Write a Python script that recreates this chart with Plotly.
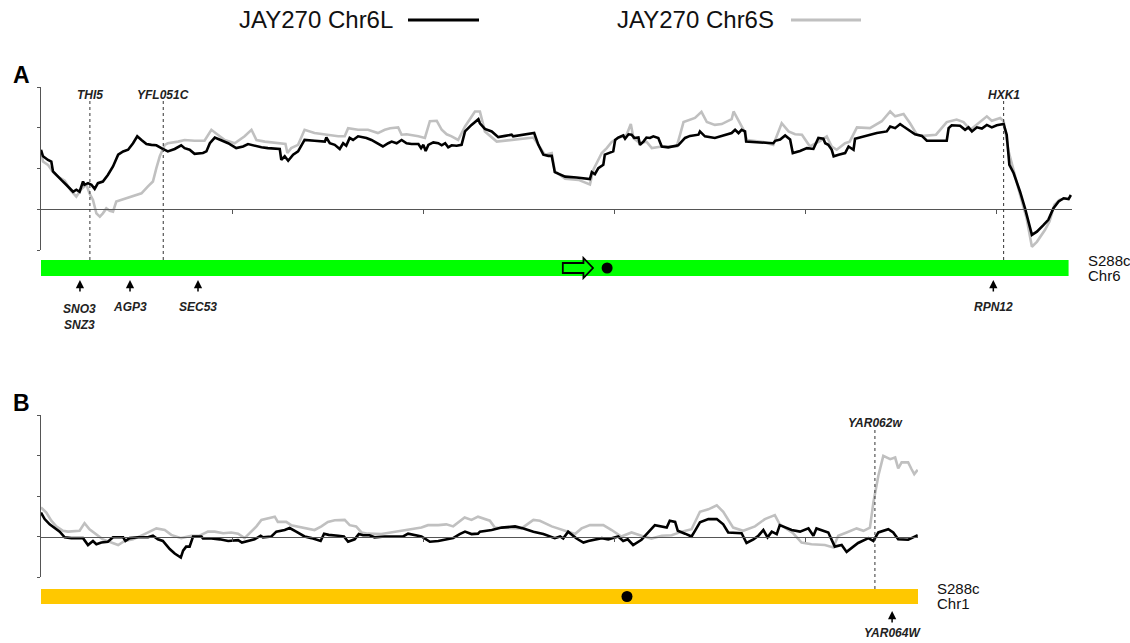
import plotly.graph_objects as go

# ---------------- data (position in kb, relative value) ----------------
a_black_kb = [0, 0.52, 1.83, 2.7, 3.14, 4.0, 5.3, 6.6, 8.4, 9.25, 10.1, 11.0, 11.4, 12.3, 13.2, 14.05, 14.9, 16.2,
              17.5, 18.85, 20.2, 21.5, 22.8, 24.1, 25.2, 26.3, 27.6, 28.9, 30.2, 31.5, 33.2, 35.0, 36.7, 37.6, 38.9,
              40.2, 42.4, 43.3, 44.2, 45.5, 47.2, 49.0, 51.1, 52.9, 54.2, 55.9, 57.7, 59.4, 62.5, 62.9, 63.8, 64.7,
              66.0, 67.3, 69.0, 71.6, 74.3, 74.7, 75.6, 76.9, 78.2, 79.1, 79.9, 80.8, 81.7, 83.0, 85.2, 86.5, 88.2,
              89.5, 90.9, 91.8, 93.1, 94.4, 95.7, 97.0, 98.8, 99.5, 100.1, 100.7, 101.4, 102.7, 104.0, 104.9, 105.8,
              106.6, 107.5, 108.8, 110.1, 111.0, 112.7, 114.5, 114.9, 116.2, 118.0, 119.7, 121.5, 123.2, 123.6, 126.7,
              129.1, 130.2, 131.5, 132.8, 133.7, 134.5, 137.2, 140.2, 143.7, 144.2, 145.0, 145.9, 147.2, 147.6, 148.5,
              149.8, 150.3, 151.1, 152.4, 152.9, 153.8, 154.6, 155.3, 156.4, 156.8, 157.7, 158.5, 159.4, 160.3, 161.6,
              162.5, 164.2, 166.8, 168.6, 169.9, 172.1, 172.5, 173.8, 176.4, 178.2, 180.8, 181.7, 182.6, 183.4, 184.3,
              184.6, 188.3, 191.7, 192.2, 193.5, 194.8, 196.1, 196.8, 198.7, 200.5, 202.2, 203.5, 204.8, 205.3, 206.1,
              207.0, 207.5, 208.8, 210.5, 211.4, 212.7, 213.1, 215.3, 217.0, 218.8, 221.4, 222.3, 223.6, 224.9, 225.8,
              227.1, 228.8, 230.6, 231.9, 237.1, 237.6, 238.4, 240.6, 241.9, 242.8, 243.7, 245.0, 246.3, 247.6, 248.9,
              250.2, 252.0, 252.8, 253.5, 254.6, 256.3, 257.6, 259.4, 260.7, 262.4, 263.7, 265.0, 266.4, 267.7, 269.0,
              269.6]
a_black_val = [1.46, 1.30, 1.21, 1.17, 0.93, 0.84, 0.72, 0.60, 0.43, 0.48, 0.43, 0.68, 0.60, 0.64, 0.60, 0.50, 0.64,
               0.68, 0.84, 1.05, 1.34, 1.42, 1.46, 1.62, 1.79, 1.70, 1.60, 1.58, 1.57, 1.50, 1.42, 1.48, 1.57, 1.50,
               1.46, 1.36, 1.38, 1.42, 1.62, 1.76, 1.70, 1.62, 1.50, 1.54, 1.60, 1.56, 1.52, 1.50, 1.48, 1.21, 1.30,
               1.19, 1.34, 1.42, 1.70, 1.68, 1.66, 1.76, 1.62, 1.58, 1.48, 1.62, 1.56, 1.75, 1.70, 1.79, 1.75, 1.70,
               1.62, 1.54, 1.62, 1.66, 1.62, 1.70, 1.62, 1.60, 1.60, 1.50, 1.58, 1.43, 1.58, 1.64, 1.62, 1.57, 1.62,
               1.52, 1.57, 1.56, 1.58, 1.91, 2.07, 2.21, 2.11, 1.97, 1.91, 1.77, 1.80, 1.83, 1.79, 1.83, 1.87, 1.58,
               1.34, 1.31, 1.31, 0.91, 0.80, 0.78, 0.74, 0.91, 0.86, 1.01, 1.09, 1.34, 1.38, 1.42, 1.70, 1.76, 1.81,
               1.73, 1.84, 1.83, 1.75, 1.76, 1.58, 1.66, 1.76, 1.75, 1.79, 1.75, 1.54, 1.52, 1.57, 1.75, 1.80, 1.83,
               1.91, 1.79, 1.75, 1.80, 1.87, 1.95, 1.87, 1.95, 1.91, 1.66, 1.64, 1.62, 1.68, 1.71, 1.81, 1.71, 1.38,
               1.43, 1.50, 1.48, 1.75, 1.73, 1.62, 1.58, 1.46, 1.30, 1.34, 1.38, 1.54, 1.46, 1.73, 1.79, 1.83, 1.87,
               1.91, 2.03, 1.99, 2.09, 2.03, 1.95, 1.84, 1.80, 1.68, 1.68, 1.99, 2.06, 2.05, 1.95, 2.01, 1.91, 2.01,
               1.98, 2.07, 2.01, 2.06, 2.09, 1.83, 1.09, 0.89, 0.43, 0.02, -0.63, -0.55, -0.39, -0.26, 0.02, 0.19,
               0.27, 0.25, 0.35]

a_gray_kb = [0, 0.52, 1.83, 3.14, 4.45, 6.2, 7.9, 9.25, 10.6, 11.9, 12.7, 13.6, 14.5, 15.4, 16.2, 17.1, 18.0, 18.85,
             19.7, 21.0, 22.8, 24.5, 26.3, 28.0, 29.3, 30.2, 31.1, 32.4, 33.2, 35.9, 37.6, 40.2, 42.8, 44.6, 46.3,
             48.1, 50.7, 53.3, 55.1, 56.4, 58.6, 62.5, 64.0, 64.5, 65.5, 67.3, 69.0, 71.6, 74.3, 77.8, 79.5, 80.4,
             83.0, 85.6, 88.2, 90.0, 91.4, 93.5, 94.4, 95.7, 98.8, 100.5, 101.8, 103.6, 104.9, 106.2, 107.5, 109.2,
             111.0, 113.6, 114.9, 116.2, 119.3, 123.2, 128.9, 130.2, 131.9, 133.7, 134.5, 137.2, 140.7, 143.7, 144.6,
             146.8, 148.1, 149.4, 151.1, 153.3, 154.4, 155.1, 156.8, 158.5, 159.9, 162.5, 166.4, 167.3, 168.2, 171.2,
             172.9, 174.3, 176.4, 178.2, 180.8, 181.3, 182.6, 183.9, 184.8, 189.1, 191.7, 193.1, 193.9, 195.7, 197.4,
             199.2, 201.3, 204.0, 205.7, 207.0, 208.3, 210.5, 211.7, 213.6, 217.0, 220.1, 222.3, 223.6, 224.9, 225.8,
             227.5, 229.3, 231.0, 234.3, 237.1, 239.7, 241.5, 243.3, 247.6, 248.9, 251.1, 252.0, 253.3, 254.6, 256.3,
             258.0, 259.4, 260.7, 262.8, 264.0, 265.3, 266.6, 268.3]
a_gray_val = [1.42, 1.17, 1.09, 0.91, 0.80, 0.70, 0.45, 0.31, 0.50, 0.60, 0.39, 0.23, -0.10, -0.18, -0.10, 0.02, -0.04,
              -0.06, 0.19, 0.23, 0.27, 0.33, 0.39, 0.56, 0.68, 1.01, 1.30, 1.58, 1.62, 1.66, 1.70, 1.68, 1.68, 1.95,
              1.83, 1.70, 1.62, 1.79, 1.95, 1.70, 1.66, 1.62, 1.60, 1.38, 1.50, 1.58, 1.95, 1.87, 1.83, 1.79, 1.79,
              1.99, 1.95, 1.95, 1.87, 1.95, 1.99, 2.01, 1.83, 1.84, 1.79, 1.75, 2.16, 2.17, 1.95, 1.84, 1.79, 1.70,
              2.03, 2.40, 2.40, 1.91, 1.66, 1.70, 1.76, 1.58, 1.34, 1.38, 0.94, 0.75, 0.72, 0.61, 0.97, 1.38, 1.50,
              1.65, 1.75, 1.83, 2.09, 1.75, 1.62, 1.66, 1.50, 1.54, 1.54, 1.83, 2.14, 2.24, 2.39, 2.14, 2.07, 2.09,
              2.21, 2.40, 2.16, 1.95, 1.70, 1.65, 1.58, 1.91, 2.11, 1.91, 1.84, 1.83, 1.54, 1.68, 1.79, 1.54, 1.46,
              1.62, 1.66, 2.01, 1.99, 2.16, 2.40, 2.28, 2.32, 2.34, 2.11, 1.83, 1.80, 1.83, 2.14, 2.20, 2.14, 1.95,
              2.28, 2.17, 2.24, 2.16, 1.42, 0.93, 0.35, -0.22, -0.92, -0.80, -0.51, -0.30, 0.11, 0.23, 0.27]

b_black_kb = [0, 0.96, 2.27, 3.58, 4.9, 6.2, 7.94, 11.0, 12.3, 13.6, 14.5, 15.8, 17.5, 18.85, 21.5, 22.1, 23.2, 25.4,
              28.0, 29.3, 30.6, 31.9, 33.7, 35.0, 36.6, 37.2, 38.0, 38.9, 39.8, 42.0, 42.4, 44.6, 46.8, 49.0, 51.6,
              52.6, 53.8, 55.9, 57.5, 58.1, 60.3, 61.6, 63.8, 65.1, 66.8, 69.0, 70.8, 72.1, 73.2, 74.1, 75.3, 77.8,
              79.3, 80.4, 82.1, 83.2, 84.3, 86.0, 87.3, 90.0, 94.8, 96.1, 99.6, 101.8, 104.0, 107.9, 109.6, 111.0,
              112.7, 114.4, 114.9, 118.0, 120.6, 124.1, 126.3, 128.9, 131.5, 134.5, 135.9, 136.7, 138.0, 139.3, 140.2,
              142.0, 143.3, 146.8, 148.5, 151.1, 152.4, 153.6, 155.0, 157.2, 158.5, 160.7, 163.8, 164.6, 166.0, 166.7,
              168.6, 170.3, 171.2, 172.5, 174.7, 176.9, 178.6, 179.9, 183.4, 184.7, 186.5, 187.8, 189.1, 190.2, 191.3,
              192.6, 193.4, 196.5, 198.7, 200.9, 202.2, 203.0, 206.1, 207.8, 209.6, 210.9, 213.9, 216.6, 217.9, 219.2,
              221.8, 223.1, 224.4, 227.0, 228.3, 229.5]
b_black_val = [0.59, 0.43, 0.30, 0.22, 0.12, -0.02, -0.04, -0.04, -0.21, -0.11, -0.19, -0.15, -0.13, -0.02, -0.02,
               -0.11, -0.04, -0.02, -0.02, 0.02, -0.07, -0.11, -0.31, -0.42, -0.52, -0.35, -0.25, -0.25, 0.0, 0.0,
               -0.05, -0.05, -0.07, -0.11, -0.09, -0.15, -0.12, -0.07, 0.02, -0.02, 0.0, 0.12, 0.16, 0.21, 0.12, 0.0,
               -0.04, -0.07, -0.11, 0.07, 0.04, 0.02, 0.0, -0.13, -0.07, 0.06, 0.03, 0.03, -0.02, 0.0, 0.0, 0.07, 0.0,
               -0.13, -0.11, -0.04, 0.06, 0.12, 0.06, 0.07, 0.12, 0.16, 0.22, 0.25, 0.20, 0.12, 0.06, -0.04, 0.0,
               -0.05, 0.12, 0.02, -0.05, -0.15, -0.11, -0.04, -0.07, 0.0, -0.11, -0.07, -0.21, -0.08, 0.06, 0.28, 0.22,
               0.39, 0.36, 0.14, 0.07, 0.0, 0.14, 0.35, 0.43, 0.43, 0.30, 0.10, 0.08, -0.16, -0.07, 0.02, 0.16, -0.02,
               0.12, 0.06, 0.28, 0.16, 0.12, 0.20, 0.02, 0.20, 0.10, -0.25, -0.21, -0.38, -0.16, -0.04, -0.11, 0.10,
               0.18, 0.10, -0.07, -0.08, -0.02, 0.03]

b_gray_kb = [0, 1.4, 2.7, 4.0, 5.76, 7.07, 10.1, 11.4, 12.7, 14.5, 16.2, 18.4, 20.2, 21.9, 24.1, 27.1, 28.9, 30.2, 32.4,
             34.1, 36.7, 39.4, 41.5, 43.7, 45.5, 47.7, 49.8, 51.6, 53.3, 55.1, 56.4, 57.7, 59.4, 61.2, 62.0, 64.2,
             65.5, 68.2, 71.6, 73.4, 75.1, 76.9, 79.5, 80.8, 82.5, 83.9, 85.6, 89.1, 91.7, 94.3, 97.0, 99.6, 101.3,
             104.0, 106.1, 107.9, 110.9, 112.7, 114.4, 117.5, 118.8, 125.8, 128.9, 130.6, 133.7, 137.2, 139.8, 141.5,
             143.7, 147.2, 149.4, 151.9, 154.6, 157.2, 159.8, 162.5, 165.1, 167.7, 170.3, 172.5, 174.7, 176.9, 178.6,
             181.2, 183.8, 186.9, 189.5, 192.1, 193.4, 196.9, 199.1, 201.7, 205.2, 207.4, 208.7, 210.9, 213.5, 215.3,
             217.0, 217.9, 219.2, 220.5, 222.3, 223.6, 224.4, 225.3, 227.0, 227.9, 228.6, 229.5]
b_gray_val = [0.72, 0.59, 0.39, 0.25, 0.14, 0.12, 0.14, 0.33, 0.18, 0.06, -0.07, -0.15, -0.21, -0.11, -0.07, 0.06,
              0.14, 0.20, 0.16, 0.04, -0.04, 0.02, 0.02, 0.12, 0.12, 0.08, 0.10, 0.07, -0.04, 0.12, 0.25, 0.41, 0.45,
              0.49, 0.36, 0.36, 0.28, 0.22, 0.16, 0.25, 0.36, 0.40, 0.41, 0.28, 0.25, 0.10, 0.07, 0.06, 0.10, 0.14,
              0.18, 0.22, 0.28, 0.28, 0.30, 0.25, 0.47, 0.41, 0.49, 0.39, 0.22, 0.20, 0.41, 0.39, 0.25, 0.14, 0.06,
              0.20, 0.28, 0.28, 0.16, 0.0, 0.10, 0.02, -0.05, 0.02, 0.03, 0.12, 0.18, 0.61, 0.67, 0.77, 0.61, 0.22,
              0.14, 0.25, 0.43, 0.53, 0.30, 0.08, -0.15, -0.19, -0.21, -0.27, 0.02, 0.10, 0.20, 0.14, 0.22, 0.84,
              1.50, 1.99, 1.91, 1.95, 1.68, 1.83, 1.83, 1.66, 1.54, 1.65]

series_names = ["JAY270 Chr6L", "JAY270 Chr6S"]
chr6_len, chr1_len = 269.0, 229.6
axis6_len, axis1_len = 270.0, 229.6
cen6, cen1 = 148.2, 153.4
cen6_arrow = [136.6, 142.0, 144.5]          # start, head start, tip (kb)
a_top_genes, a_top_pos = ["THI5", "YFL051C", "HXK1"], [12.8, 32.0, 252.0]
a_bot_genes, a_bot_pos = ["SNO3<br>SNZ3", "AGP3", "SEC53", "RPN12"], [10.2, 23.3, 41.1, 249.3]
b_top_genes, b_top_pos = ["YAR062w"], [218.3]
b_bot_genes, b_bot_pos = ["YAR064W"], [222.8]
y_ticks = [-1, 0, 1, 2, 3]

# ---------------- layout helpers ----------------
W, H = 1130, 643
PXKB = 3.82
X0 = 41
FONT = "Liberation Sans, Arial, sans-serif"
BLACK, GRAY = "#000000", "#c0c0c0"
AXC = "#555555"


def px(x):
    return x / W


def py(y):
    return 1 - y / H


panels = {
    "A": dict(top=87, bot=250, length=axis6_len, bar_top=260, bar_bot=276, bar_len=chr6_len,
              bar_color="#00ff00", cen=cen6, chrom="Chr6", xa="x", ya="y"),
    "B": dict(top=415, bot=577, length=axis1_len, bar_top=589, bar_bot=604, bar_len=chr1_len,
              bar_color="#ffc800", cen=cen1, chrom="Chr1", xa="x2", ya="y2"),
}

fig = go.Figure()

# traces
for (bk, bv, gk, gv, xa, ya) in [(a_black_kb, a_black_val, a_gray_kb, a_gray_val, "x", "y"),
                                 (b_black_kb, b_black_val, b_gray_kb, b_gray_val, "x2", "y2")]:
    fig.add_trace(go.Scatter(x=gk, y=gv, mode="lines", xaxis=xa, yaxis=ya, name=series_names[1],
                             line=dict(color=GRAY, width=2.6), showlegend=False, hoverinfo="skip"))
    fig.add_trace(go.Scatter(x=bk, y=bv, mode="lines", xaxis=xa, yaxis=ya, name=series_names[0],
                             line=dict(color=BLACK, width=2.6), showlegend=False, hoverinfo="skip"))

shapes = []
annotations = []
layout_axes = {}
for key, p in panels.items():
    ydom = [py(p["bot"]), py(p["top"])]
    xdom = [px(X0), px(X0 + p["length"] * PXKB)]
    zero_pos = ydom[0] + (0 - y_ticks[0]) / (y_ticks[-1] - y_ticks[0]) * (ydom[1] - ydom[0])
    xname = "xaxis" if p["xa"] == "x" else "xaxis2"
    yname = "yaxis" if p["ya"] == "y" else "yaxis2"
    layout_axes[xname] = dict(domain=xdom, range=[0, p["length"]], anchor="free", position=zero_pos,
                              showline=True, linecolor=AXC, linewidth=1, ticks="outside", ticklen=4,
                              tickcolor=AXC, tickvals=[v for v in [50, 100, 150, 200, 250] if v < p["length"]],
                              showticklabels=False, showgrid=False, zeroline=False, fixedrange=True)
    layout_axes[yname] = dict(domain=ydom, range=[y_ticks[0], y_ticks[-1]], anchor=p["xa"],
                              showline=True, linecolor=AXC, linewidth=1, ticks="outside", ticklen=3,
                              tickcolor=AXC, tickvals=y_ticks, showticklabels=False, showgrid=False,
                              zeroline=False, fixedrange=True)
    # chromosome bar
    shapes.append(dict(type="rect", xref=p["xa"], yref="paper", x0=0, x1=p["bar_len"],
                       y0=py(p["bar_bot"]), y1=py(p["bar_top"]), fillcolor=p["bar_color"], line=dict(width=0),
                       layer="below"))
    # centromere dot
    yc = (p["bar_top"] + p["bar_bot"]) / 2
    r = 5.5
    shapes.append(dict(type="circle", xref=p["xa"], yref="paper", x0=p["cen"] - r / PXKB, x1=p["cen"] + r / PXKB,
                       y0=py(yc + r), y1=py(yc - r), fillcolor="black", line=dict(width=0)))
    # chromosome label
    lx = min(X0 + p["bar_len"] * PXKB + 17, 1088)
    annotations.append(dict(x=px(lx), y=py(yc - 8), xref="paper", yref="paper",
                            text="S288c", showarrow=False, xanchor="left", yanchor="middle",
                            font=dict(family=FONT, size=15, color="#111")))
    annotations.append(dict(x=px(lx), y=py(yc + 7), xref="paper", yref="paper",
                            text=p["chrom"], showarrow=False, xanchor="left", yanchor="middle",
                            font=dict(family=FONT, size=15, color="#111")))
    # panel letter
    annotations.append(dict(x=px(21), y=py(p["top"] - 12), xref="paper", yref="paper", text="<b>%s</b>" % key,
                            showarrow=False, xanchor="center", yanchor="middle",
                            font=dict(family=FONT, size=23, color="black")))

# arrow outline next to chr6 centromere
ycA = (panels["A"]["bar_top"] + panels["A"]["bar_bot"]) / 2
x1, xh, xt = cen6_arrow
pts = [(x1, ycA - 5), (xh, ycA - 5), (xh, ycA - 10), (xt, ycA), (xh, ycA + 10), (xh, ycA + 5), (x1, ycA + 5)]
path = "M " + " L ".join("%.3f,%.5f" % (a, py(b)) for a, b in pts) + " Z"
shapes.append(dict(type="path", xref="x", yref="paper", path=path, fillcolor="#00ff00",
                   line=dict(color="black", width=1.8)))


def gene_text(g):
    return "<b><i>%s</i></b>" % g.replace("<br>", "</i></b><br><b><i>")


# top (dashed) gene marks
for genes, poss, xa, label_y, line_top, line_bot in [
        (a_top_genes, a_top_pos, "x", 95, 101, 260),
        (b_top_genes, b_top_pos, "x2", 423, 429, 589)]:
    for g, pos in zip(genes, poss):
        shapes.append(dict(type="line", xref=xa, yref="paper", x0=pos, x1=pos, y0=py(line_bot), y1=py(line_top),
                           line=dict(color="#333", width=1, dash="dot")))
        annotations.append(dict(x=pos, y=py(label_y), xref=xa, yref="paper", text=gene_text(g), showarrow=False,
                                xanchor="center", yanchor="middle", font=dict(family=FONT, size=12, color="#222")))

# bottom (arrow) gene marks
for genes, poss, xa, head_y, label_y in [
        (a_bot_genes, a_bot_pos, "x", 280, 307),
        (b_bot_genes, b_bot_pos, "x2", 611, 633)]:
    for g, pos in zip(genes, poss):
        annotations.append(dict(x=pos, y=py(head_y), xref=xa, yref="paper", text="", showarrow=True,
                                ax=0, ay=13, arrowhead=2, arrowsize=1.1, arrowwidth=1.5, arrowcolor="black",
                                standoff=0, startstandoff=0))
        annotations.append(dict(x=pos, y=py(label_y), xref=xa, yref="paper", text=gene_text(g), showarrow=False,
                                xanchor="center", yanchor="top" if "<br>" in g else "middle",
                                yshift=7 if "<br>" in g else 0,
                                font=dict(family=FONT, size=12, color="#222")))

# legend (text then line sample)
for name, color, text_right, l0, l1 in [(series_names[0], BLACK, 395, 408, 479),
                                        (series_names[1], GRAY, 776, 791, 861)]:
    annotations.append(dict(x=px(text_right), y=py(20), xref="paper", yref="paper", text=name, showarrow=False,
                            xanchor="right", yanchor="middle", font=dict(family=FONT, size=24, color="#111")))
    shapes.append(dict(type="line", xref="paper", yref="paper", x0=px(l0), x1=px(l1), y0=py(20), y1=py(20),
                       line=dict(color=color, width=3)))

fig.update_layout(
    width=W, height=H, margin=dict(l=0, r=0, t=0, b=0),
    paper_bgcolor="white", plot_bgcolor="white",
    showlegend=False, shapes=shapes, annotations=annotations,
    font=dict(family=FONT), hovermode=False, dragmode=False,
    **layout_axes,
)

fig.write_html("out.html", config={"displayModeBar": False, "staticPlot": True},
               post_script="document.body.style.margin='0px';")
